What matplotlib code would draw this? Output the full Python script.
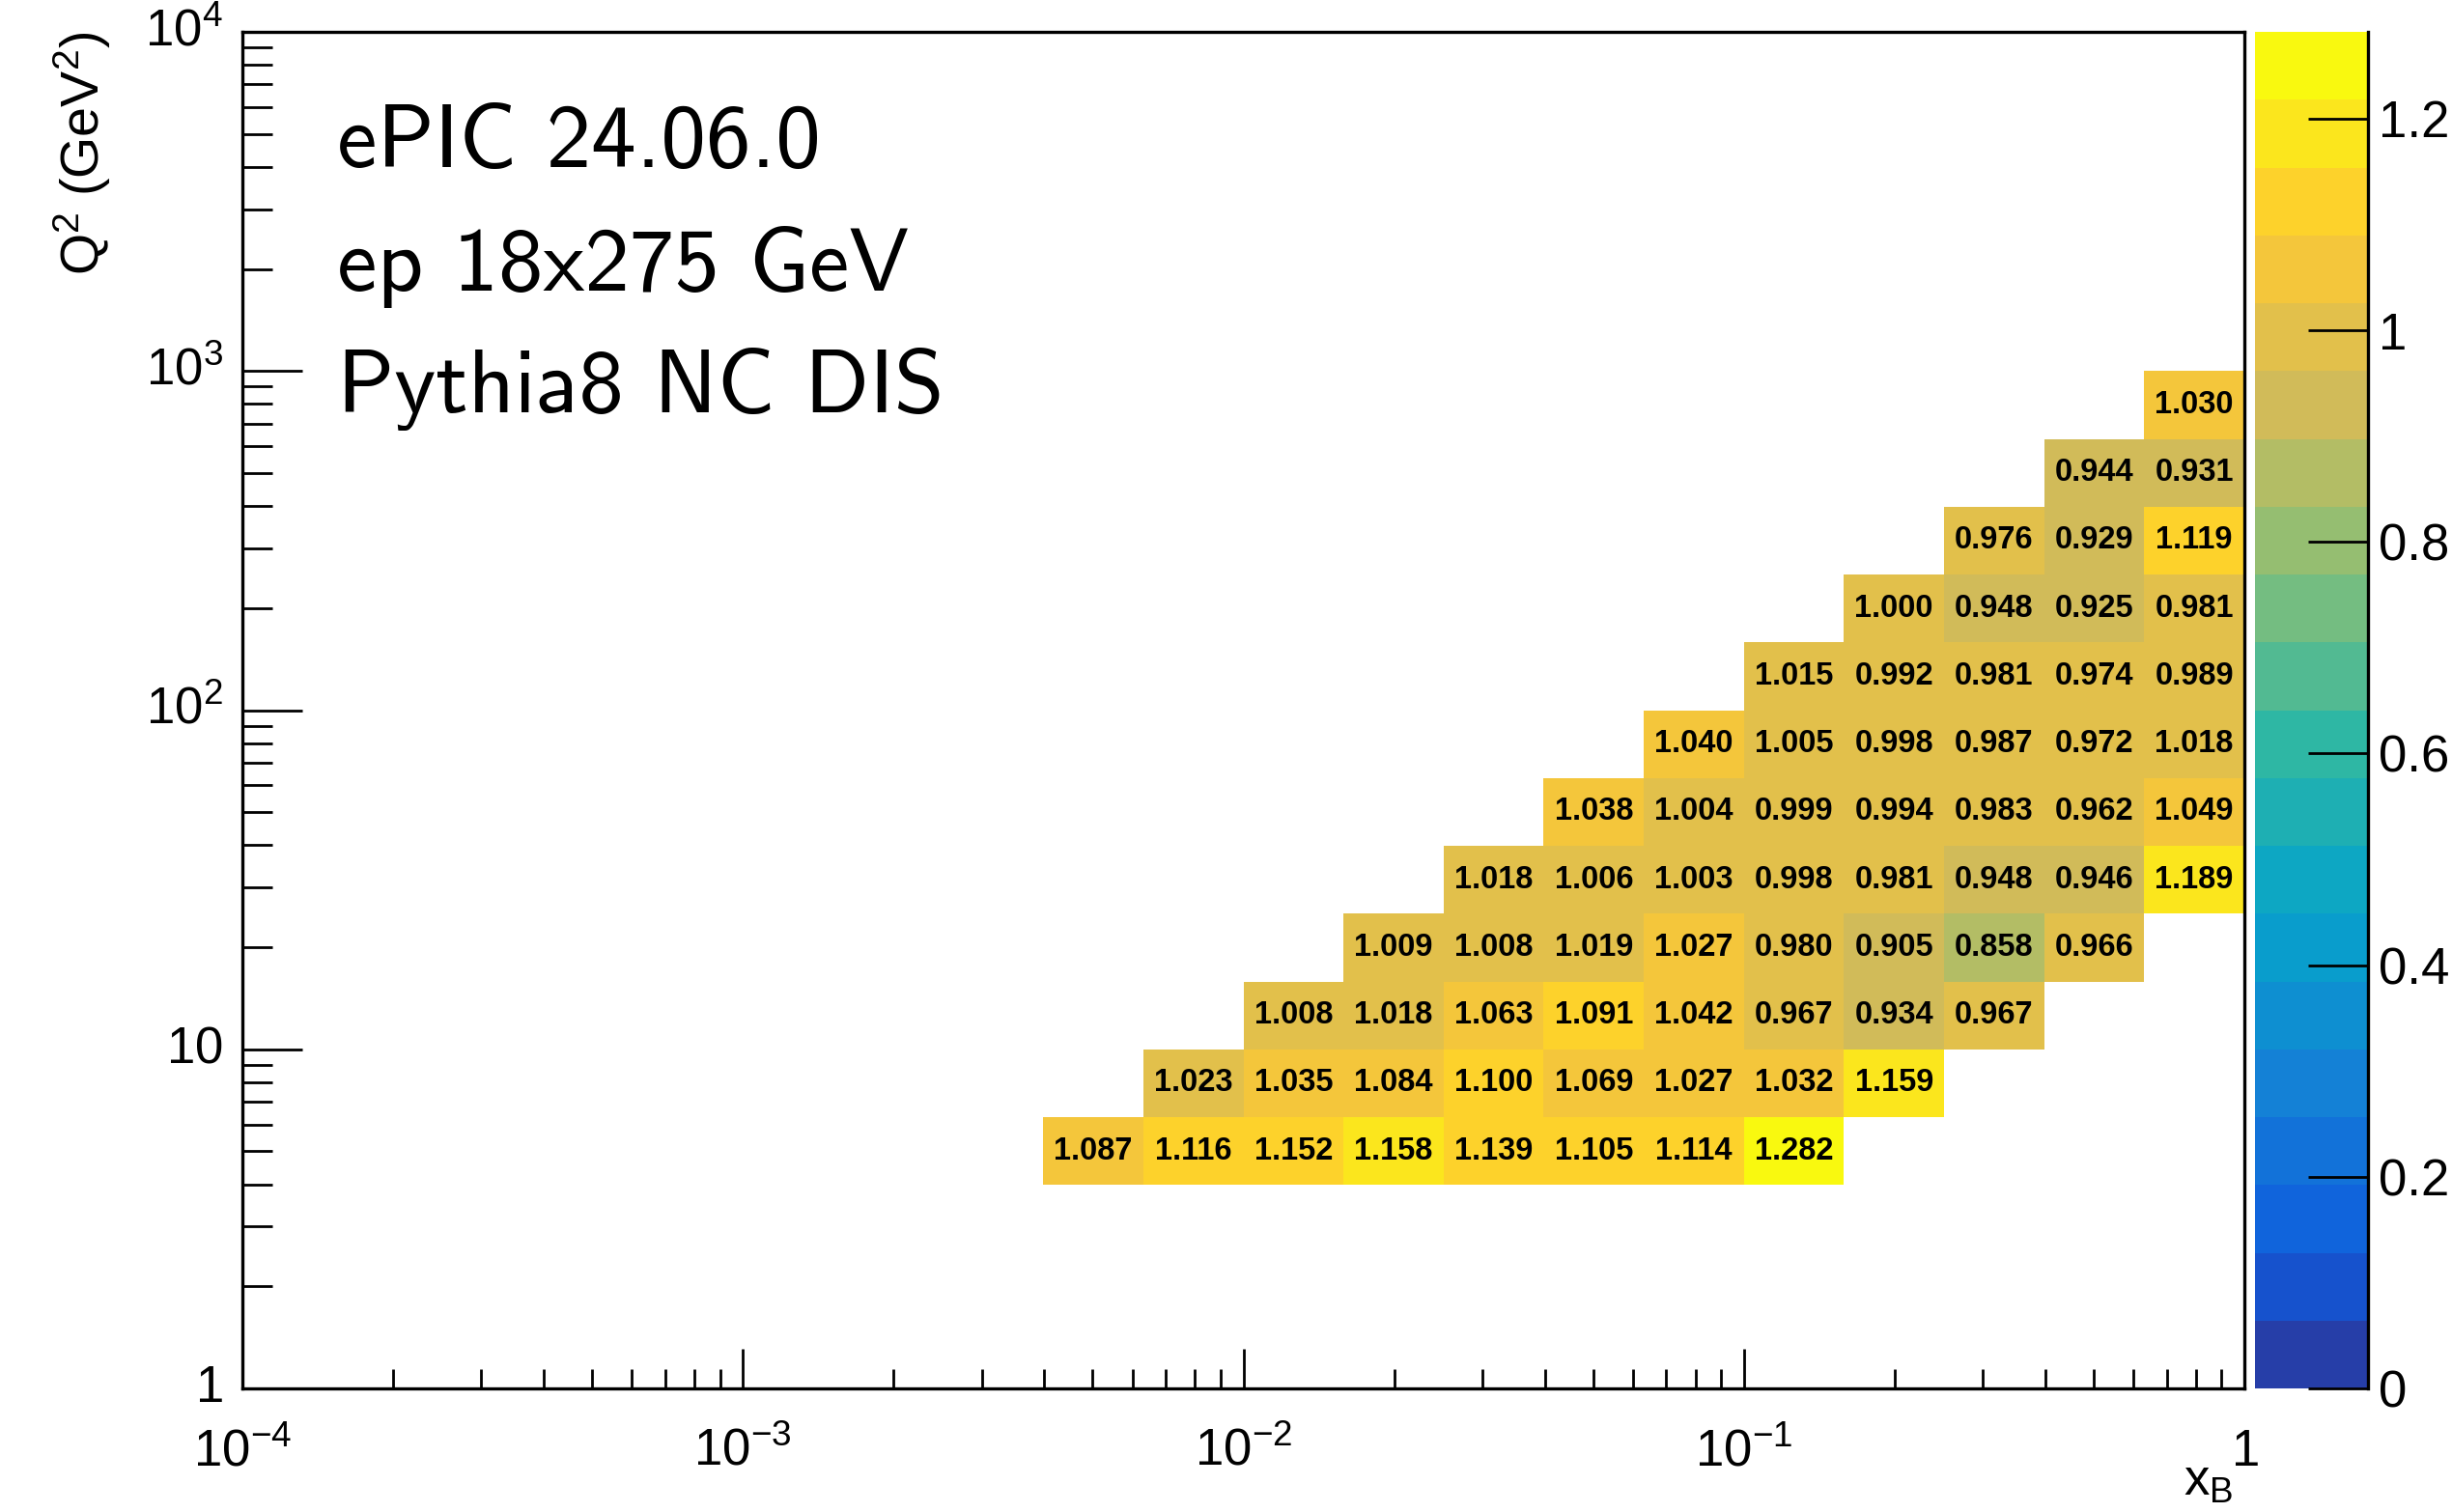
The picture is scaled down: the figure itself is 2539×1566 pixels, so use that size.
import numpy as np
import matplotlib
matplotlib.use("Agg")
import matplotlib.pyplot as plt
from matplotlib.colors import ListedColormap, BoundaryNorm
from matplotlib.ticker import FixedLocator, FixedFormatter, LogLocator, NullFormatter

# ---------------------------------------------------------------- data
# Binning: 5 log bins per decade in both x_B and Q^2
x_edges = np.logspace(-4, 0, 21)
y_edges = np.logspace(0, 4, 21)

# Each row: Q^2 bin index, first x_B bin index, ratios in consecutive x_B bins
q2_bin = [3, 4, 5, 6, 7, 8, 9, 10, 11, 12, 13, 14]
x_first_bin = [8, 9, 10, 11, 12, 13, 14, 15, 16, 17, 18, 19]
ratios = [
    [1.087, 1.116, 1.152, 1.158, 1.139, 1.105, 1.114, 1.282],
    [1.023, 1.035, 1.084, 1.100, 1.069, 1.027, 1.032, 1.159],
    [1.008, 1.018, 1.063, 1.091, 1.042, 0.967, 0.934, 0.967],
    [1.009, 1.008, 1.019, 1.027, 0.980, 0.905, 0.858, 0.966],
    [1.018, 1.006, 1.003, 0.998, 0.981, 0.948, 0.946, 1.189],
    [1.038, 1.004, 0.999, 0.994, 0.983, 0.962, 1.049],
    [1.040, 1.005, 0.998, 0.987, 0.972, 1.018],
    [1.015, 0.992, 0.981, 0.974, 0.989],
    [1.000, 0.948, 0.925, 0.981],
    [0.976, 0.929, 1.119],
    [0.944, 0.931],
    [1.030],
]

x_ticks = [1e-4, 1e-3, 1e-2, 1e-1, 1]
x_tick_labels = [r"$10^{-4}$", r"$10^{-3}$", r"$10^{-2}$", r"$10^{-1}$", r"$1$"]
y_ticks = [1, 10, 100, 1000, 10000]
y_tick_labels = [r"$1$", r"$10$", r"$10^{2}$", r"$10^{3}$", r"$10^{4}$"]
z_ticks = [0, 0.2, 0.4, 0.6, 0.8, 1.0, 1.2]
z_tick_labels = ["0", "0.2", "0.4", "0.6", "0.8", "1", "1.2"]

info_lines = ["ePIC 24.06.0", "ep 18x275 GeV", "Pythia8 NC DIS"]

# ---------------------------------------------------------------- palette (kBird)
bird_stops = [0.0000, 0.1250, 0.2500, 0.3750, 0.5000, 0.6250, 0.7500, 0.8750, 1.0000]
bird_r = [0.2082, 0.0592, 0.0780, 0.0232, 0.1802, 0.5301, 0.8186, 0.9956, 0.9764]
bird_g = [0.1664, 0.3599, 0.5041, 0.6419, 0.7178, 0.7492, 0.7328, 0.7862, 0.9832]
bird_b = [0.5293, 0.8684, 0.8385, 0.7914, 0.6425, 0.4662, 0.3499, 0.1968, 0.0539]


def gradient_table(n=255):
    cols = []
    for g in range(1, len(bird_stops)):
        nseg = int(np.floor(n * bird_stops[g]) - np.floor(n * bird_stops[g - 1]))
        for c in range(nseg):
            f = c / nseg
            cols.append((bird_r[g - 1] + f * (bird_r[g] - bird_r[g - 1]),
                         bird_g[g - 1] + f * (bird_g[g] - bird_g[g - 1]),
                         bird_b[g - 1] + f * (bird_b[g] - bird_b[g - 1])))
    return cols


n_levels = 20
table = gradient_table(255)
level_colors = [table[int((i + 0.99) * len(table) / n_levels)] for i in range(n_levels)]
cmap = ListedColormap(level_colors).with_extremes(over=level_colors[-1])

Z = np.full((len(y_edges) - 1, len(x_edges) - 1), np.nan)
for qb, xb, vals in zip(q2_bin, x_first_bin, ratios):
    for k, v in enumerate(vals):
        Z[qb, xb + k] = v

z_max = np.nanmax(Z)
norm = BoundaryNorm(np.linspace(0.0, z_max, n_levels + 1), n_levels)

# ---------------------------------------------------------------- style
plt.rcParams["font.family"] = ["Liberation Sans", "DejaVu Sans"]
plt.rcParams["mathtext.fontset"] = "custom"
plt.rcParams["mathtext.rm"] = "Liberation Sans"
plt.rcParams["mathtext.it"] = "Liberation Sans:italic"
plt.rcParams["mathtext.bf"] = "Liberation Sans:bold"

W, H = 2539, 1566
fig = plt.figure(figsize=(W / 100, H / 100), dpi=100)

ax_l, ax_r, ax_t, ax_b = 251, 2324, 33, 1438
ax = fig.add_axes([ax_l / W, 1 - ax_b / H, (ax_r - ax_l) / W, (ax_b - ax_t) / H])
cax = fig.add_axes([2335 / W, 1 - ax_b / H, (2452 - 2335) / W, (ax_b - ax_t) / H])

mesh = ax.pcolormesh(x_edges, y_edges, np.ma.masked_invalid(Z), cmap=cmap, norm=norm,
                     shading="flat", edgecolors="none", antialiased=False)

for qb, xb, vals in zip(q2_bin, x_first_bin, ratios):
    yc = np.sqrt(y_edges[qb] * y_edges[qb + 1])
    for k, v in enumerate(vals):
        xc = np.sqrt(x_edges[xb + k] * x_edges[xb + k + 1])
        ax.text(xc, yc, f"{v:.3f}", ha="center", va="center",
                fontsize=23.5, fontweight="bold", color="black")

ax.set_xscale("log")
ax.set_yscale("log")
ax.set_xlim(1e-4, 1)
ax.set_ylim(1, 1e4)

lw = 2.4
for s in ax.spines.values():
    s.set_linewidth(lw)

ax.xaxis.set_major_locator(FixedLocator(x_ticks))
ax.xaxis.set_major_formatter(FixedFormatter(x_tick_labels))
ax.yaxis.set_major_locator(FixedLocator(y_ticks))
ax.yaxis.set_major_formatter(FixedFormatter(y_tick_labels))
ax.xaxis.set_minor_locator(LogLocator(base=10, subs=np.arange(2, 10)))
ax.yaxis.set_minor_locator(LogLocator(base=10, subs=np.arange(2, 10)))
ax.xaxis.set_minor_formatter(NullFormatter())
ax.yaxis.set_minor_formatter(NullFormatter())

ax.tick_params(axis="x", which="major", direction="in", length=29.5, width=2.0,
               labelsize=38, pad=57.6)
ax.tick_params(axis="x", which="minor", direction="in", length=14.4, width=2.0)
ax.tick_params(axis="y", which="major", direction="in", length=44.6, width=2.0,
               labelsize=38, pad=14.4)
ax.tick_params(axis="y", which="minor", direction="in", length=22.3, width=2.0)
for lab in ax.get_xticklabels():
    lab.set_verticalalignment("baseline")
for lab in ax.get_yticklabels():
    lab.set_verticalalignment("center")

ax.set_xlabel(r"$\mathrm{x}_{\mathrm{B}}$", fontsize=38, ha="right")
ax.xaxis.set_label_coords((2312 - ax_l) / (ax_r - ax_l), (ax_b - 1549) / (ax_b - ax_t))
ax.xaxis.label.set_verticalalignment("baseline")

ax.set_ylabel(r"$\mathrm{Q^{2}\ (GeV^{2})}$", fontsize=40, ha="right")
ax.yaxis.set_label_coords((103 - ax_l) / (ax_r - ax_l), 1.0)
ax.yaxis.label.set_verticalalignment("baseline")

# info block, in Computer Modern Sans
for line, ybase in zip(info_lines, [173, 301, 427]):
    ax.text((349 - ax_l) / (ax_r - ax_l), (ax_b - ybase) / (ax_b - ax_t), line,
            transform=ax.transAxes, fontsize=67, family=["cmss10", "DejaVu Sans"],
            ha="left", va="baseline")

# colour scale
cb = fig.colorbar(mesh, cax=cax, extend="neither")
cb.outline.set_visible(False)
cax.spines["right"].set_visible(True)
cax.spines["right"].set_linewidth(lw)
cax.yaxis.set_major_locator(FixedLocator(z_ticks))
cax.yaxis.set_major_formatter(FixedFormatter(z_tick_labels))
cax.yaxis.set_minor_locator(FixedLocator([]))
cax.tick_params(axis="y", which="major", direction="in", length=44.6, width=2.0,
                right=True, left=False, labelright=True, labelleft=False,
                labelsize=38, pad=8)
cax.set_ylim(0, z_max)

fig.savefig("out.png", dpi=100)
